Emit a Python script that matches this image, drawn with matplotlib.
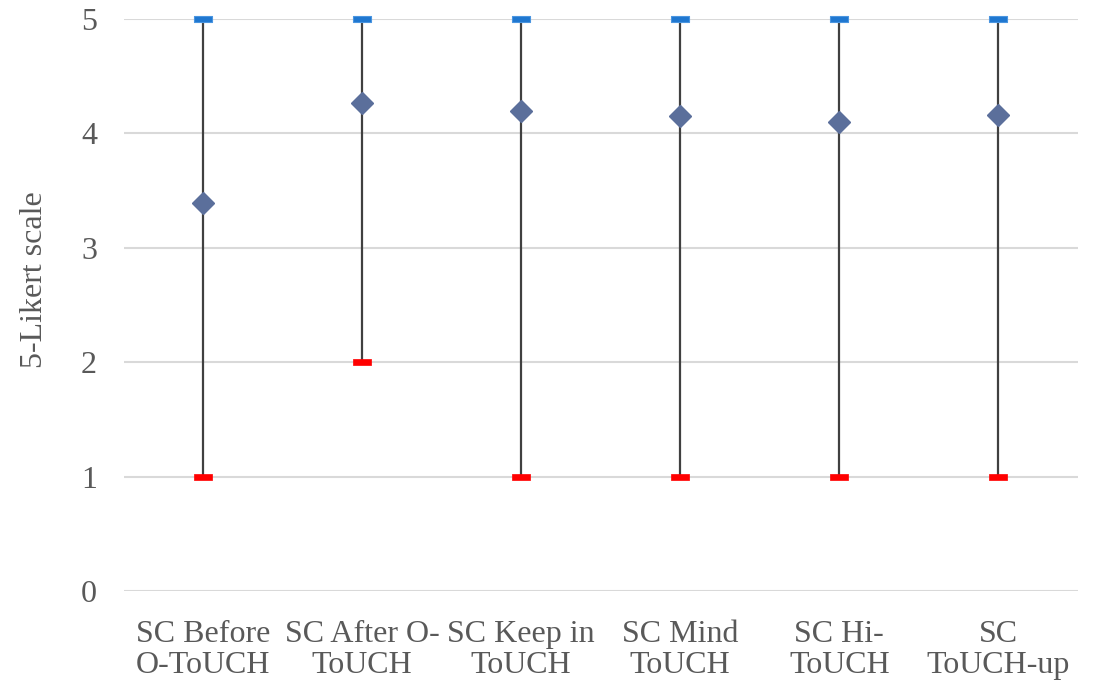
import matplotlib.pyplot as plt
from matplotlib.path import Path

categories = ["SC Before\nO-ToUCH", "SC After O-\nToUCH", "SC Keep in\nToUCH",
              "SC Mind\nToUCH", "SC Hi-\nToUCH", "SC\nToUCH-up"]
max_vals = [5, 5, 5, 5, 5, 5]
min_vals = [1, 2, 1, 1, 1, 1]
mean_vals = [3.39, 4.27, 4.20, 4.15, 4.10, 4.16]

plt.rcParams['font.family'] = ['Liberation Serif', 'DejaVu Serif']

fig = plt.figure(figsize=(10.94, 6.83), dpi=100)
ax = fig.add_axes([123.5 / 1094, 92 / 683, (1078 - 123.5) / 1094, (591 - 19) / 683])

x = list(range(len(categories)))
bar = Path([(-1, -0.28), (1, -0.28), (1, 0.28), (-1, 0.28), (-1, -0.28)],
           [Path.MOVETO, Path.LINETO, Path.LINETO, Path.LINETO, Path.CLOSEPOLY])

ax.vlines(x, min_vals, max_vals, color="#404040", linewidth=1.6, zorder=2)
ax.plot(x, max_vals, linestyle="none", marker=bar, markersize=13,
        markerfacecolor="#1f77d0", markeredgecolor="#4a95e0", markeredgewidth=0.8,
        clip_on=False, zorder=3)
ax.plot(x, min_vals, linestyle="none", marker=bar, markersize=13,
        markerfacecolor="#ff0000", markeredgecolor="#ff0000", markeredgewidth=0.5,
        clip_on=False, zorder=3)
ax.plot(x, mean_vals, linestyle="none", marker="D", markersize=11,
        color="#5b6f9b", clip_on=False, zorder=4)

ax.set_xlim(-0.5, len(categories) - 0.5)
ax.set_ylim(0, 5)
ax.set_yticks([0, 1, 2, 3, 4, 5])
ax.set_xticks(x)
ax.set_xticklabels(categories, linespacing=1.1)
ax.yaxis.grid(True, color="#d9d9d9", linewidth=1.5)
ax.set_axisbelow(True)
for s in ax.spines.values():
    s.set_visible(False)
ax.tick_params(length=0, labelsize=23, labelcolor="#595959")
ax.tick_params(axis="y", pad=19)
ax.tick_params(axis="x", pad=21)

fig.text(35 / 1094, 1 - 280 / 683, "5-Likert scale", rotation=90, fontsize=23,
         color="#595959", ha="center", va="center")

fig.savefig("out.png", dpi=100)
